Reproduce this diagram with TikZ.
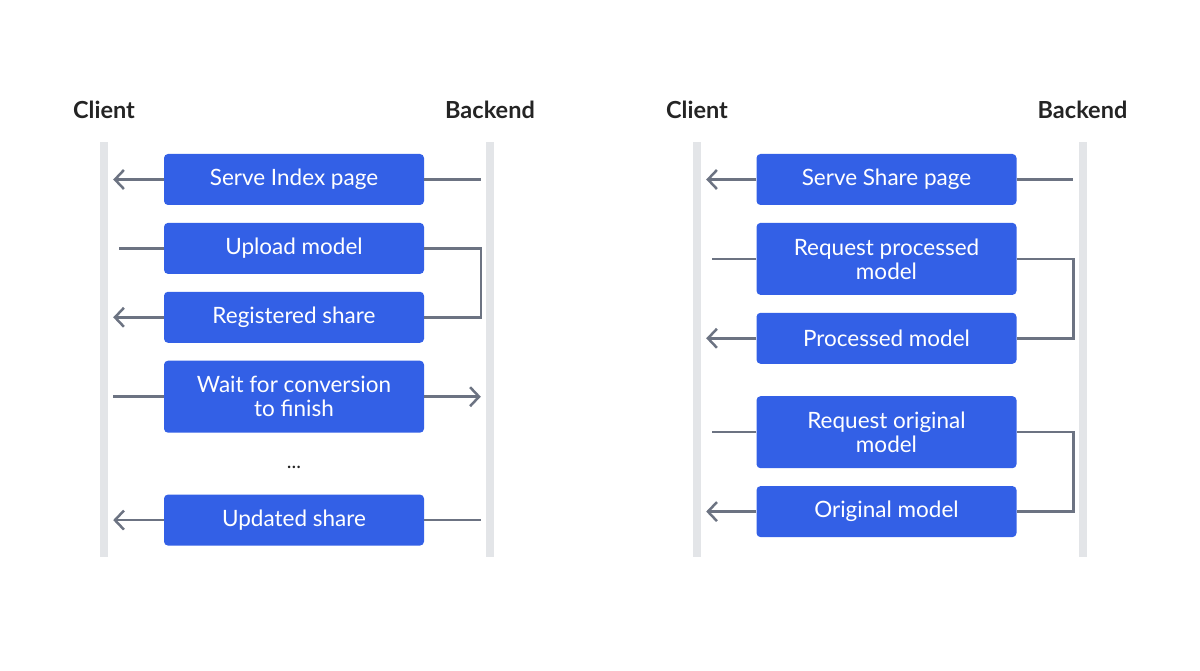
\documentclass[tikz,border=0pt]{standalone}
\usepackage{fontspec}
\setmainfont{Lato}
\usepackage{xcolor}
\usetikzlibrary{positioning}
\usetikzlibrary{calc}
\usetikzlibrary{arrows.meta}
\definecolor{sblue}{RGB}{51,96,230}
\definecolor{sgray}{RGB}{108,115,130}
\definecolor{slane}{RGB}{227,229,232}
\definecolor{sink}{RGB}{36,36,36}

\begin{document}
\begin{tikzpicture}[lifeline/.style={fill=slane, inner sep=0pt, minimum width=8pt, minimum height=415pt},
    party/.style={inner sep=0pt, text=sink, font=\fontsize{23.5}{26}\selectfont\bfseries},
    msgbox/.style={fill=sblue, rounded corners=4pt, text=white, align=center, inner sep=0pt,
        minimum width=260pt, minimum height=51pt, font=\fontsize{22.5}{24}\selectfont},
    tallbox/.style={msgbox, minimum height=72pt},
    msg/.style={draw=sgray, line width=2.5pt},
    msg_in/.style={msg, -{Straight Barb[length=9pt,width=19pt,line width=2.5pt]}, shorten >=5pt},
    msg_out/.style={msg, shorten >=11pt},
]
\useasboundingbox (0,0) rectangle (1200pt,671pt);

% left: index page
\node[lifeline] (cl) at (104pt,321.5pt) {};
\node[lifeline] (bl) at (490pt,321.5pt) {};
\node[party, above=23pt of cl] (clientl) {Client};
\node[party, above=23pt of bl] (backendl) {Backend};

\node[msgbox] (sip) at (294pt,491.5pt) {Serve Index page};
\node[msgbox, below=17.5pt of sip] (upl) {Upload model};
\node[msgbox, below=17.5pt of upl] (reg) {Registered share};
\node[tallbox, below=17.5pt of reg] (wait) {Wait for conversion\\to finish};
\node[msgbox, below=61.5pt of wait] (upd) {Updated share};
\node[font=\fontsize{20}{24}\selectfont, inner sep=0pt, text=sink, yshift=-4pt] (gapl) at ($(wait.south)!0.5!(upd.north)$) {...};

\draw[msg, shorten >=5pt] (sip.east) -- (sip.east -| bl.west);
\draw[msg_in] (sip.west) -- (sip.west -| cl.east);
\draw[msg_out] (upl.west) -- (upl.west -| cl.east);
\draw[msg] (upl.east) -- ($(upl.east -| bl.west)+(-5pt,0)$) |- (reg.east);
\draw[msg_in] (reg.west) -- (reg.west -| cl.east);
\draw[msg, shorten >=5pt] (wait.west) -- (wait.west -| cl.east);
\draw[msg_in] (wait.east) -- (wait.east -| bl.west);
\draw[msg, shorten >=5pt] (upd.east) -- (upd.east -| bl.west);
\draw[msg_in] (upd.west) -- (upd.west -| cl.east);

% right: share page
\node[lifeline] (cr) at (697pt,321.5pt) {};
\node[lifeline] (br) at (1082.5pt,321.5pt) {};
\node[party, above=23pt of cr] (clientr) {Client};
\node[party, above=23pt of br] (backendr) {Backend};

\node[msgbox] (ssp) at (886.5pt,491.5pt) {Serve Share page};
\node[tallbox, below=17.5pt of ssp] (rpm) {Request processed\\model};
\node[msgbox, below=17.5pt of rpm] (pm) {Processed model};
\node[tallbox, below=32pt of pm] (rom) {Request original\\model};
\node[msgbox, below=17.5pt of rom] (om) {Original model};

\draw[msg, shorten >=5pt] (ssp.east) -- (ssp.east -| br.west);
\draw[msg_in] (ssp.west) -- (ssp.west -| cr.east);
\draw[msg_out] (rpm.west) -- (rpm.west -| cr.east);
\draw[msg] (rpm.east) -- ($(rpm.east -| br.west)+(-5pt,0)$) |- (pm.east);
\draw[msg_in] (pm.west) -- (pm.west -| cr.east);
\draw[msg_out] (rom.west) -- (rom.west -| cr.east);
\draw[msg] (rom.east) -- ($(rom.east -| br.west)+(-5pt,0)$) |- (om.east);
\draw[msg_in] (om.west) -- (om.west -| cr.east);

\end{tikzpicture}
\end{document}
